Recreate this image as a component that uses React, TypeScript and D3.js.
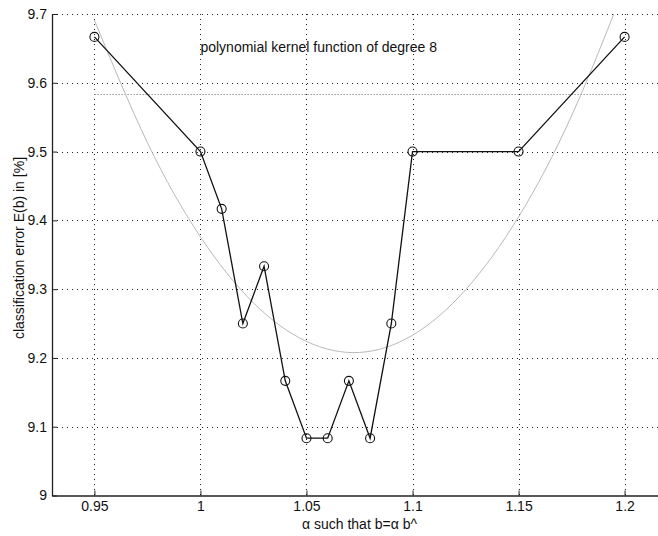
import React, { useEffect, useRef } from 'react';
import * as d3 from 'd3';

// measured error per scaling factor alpha
const alphas = [0.95, 1.0, 1.01, 1.02, 1.03, 1.04, 1.05, 1.06, 1.07, 1.08, 1.09, 1.1, 1.15, 1.2];
const errors = [9.6667, 9.5, 9.4167, 9.25, 9.3333, 9.1667, 9.0833, 9.0833, 9.1667, 9.0833, 9.25, 9.5, 9.5, 9.6667];

// gray fitted curve
const fitX = [0.95, 0.975, 1.0, 1.025, 1.05, 1.075, 1.1, 1.125, 1.15, 1.175, 1.2];
const fitY = [9.691, 9.513, 9.376, 9.28, 9.224, 9.208, 9.233, 9.299, 9.405, 9.552, 9.74];

// dotted reference level
const refLevel = 9.5833;
const refRange = [0.95, 1.2];

const xTicks = [0.95, 1, 1.05, 1.1, 1.15, 1.2];
const yTicks = [9, 9.1, 9.2, 9.3, 9.4, 9.5, 9.6, 9.7];

const App = () => {
  const svgRef = useRef<SVGSVGElement>(null);

  useEffect(() => {
    const svgWidth = 658;
    const svgHeight = 536;
    const plot = { left: 52, top: 14, right: 667, bottom: 495.5 };
    const font = '"Liberation Sans", Arial, Helvetica, sans-serif';

    const svg = d3.select(svgRef.current)
      .attr('width', svgWidth)
      .attr('height', svgHeight)
      .style('background', '#fff');

    svg.selectAll('*').remove();

    const x = d3.scaleLinear().domain([0.93, 1.22]).range([plot.left, plot.right]);
    const y = d3.scaleLinear().domain([9, 9.7]).range([plot.bottom, plot.top]);

    // clip for the curves
    svg.append('clipPath').attr('id', 'plotclip')
      .append('rect')
      .attr('x', plot.left)
      .attr('y', plot.top)
      .attr('width', plot.right - plot.left)
      .attr('height', plot.bottom - plot.top);

    // dotted grid
    const grid = svg.append('g')
      .attr('stroke', '#222')
      .attr('stroke-width', 1)
      .attr('stroke-dasharray', '1,4')
      .attr('shape-rendering', 'crispEdges');
    grid.selectAll('line.vx')
      .data(xTicks)
      .join('line')
      .attr('class', 'vx')
      .attr('x1', d => Math.round(x(d)) + 0.5)
      .attr('x2', d => Math.round(x(d)) + 0.5)
      .attr('y1', plot.top)
      .attr('y2', plot.bottom);
    grid.selectAll('line.hy')
      .data(yTicks.filter(d => d > 9))
      .join('line')
      .attr('class', 'hy')
      .attr('x1', plot.left)
      .attr('x2', plot.right)
      .attr('y1', d => Math.round(y(d)) + 0.5)
      .attr('y2', d => Math.round(y(d)) + 0.5);

    // reference level
    svg.append('line')
      .attr('x1', x(refRange[0]))
      .attr('x2', x(refRange[1]))
      .attr('y1', Math.round(y(refLevel)) + 0.5)
      .attr('y2', Math.round(y(refLevel)) + 0.5)
      .attr('stroke', '#999')
      .attr('stroke-width', 1)
      .attr('stroke-dasharray', '1.5,1.5');

    // fitted curve
    const fitLine = d3.line<number>()
      .x((d, i) => x(fitX[i]))
      .y(d => y(d))
      .curve(d3.curveNatural);
    svg.append('path')
      .datum(fitY)
      .attr('clip-path', 'url(#plotclip)')
      .attr('fill', 'none')
      .attr('stroke', '#b8b8b8')
      .attr('stroke-width', 1)
      .attr('d', fitLine);

    // measured error
    const errLine = d3.line<number>()
      .x((d, i) => x(alphas[i]))
      .y(d => y(d));
    svg.append('path')
      .datum(errors)
      .attr('fill', 'none')
      .attr('stroke', '#111')
      .attr('stroke-width', 1.3)
      .attr('d', errLine);

    svg.append('g')
      .selectAll('circle')
      .data(errors)
      .join('circle')
      .attr('cx', (d, i) => x(alphas[i]))
      .attr('cy', d => y(d))
      .attr('r', 4.5)
      .attr('fill', 'none')
      .attr('stroke', '#111')
      .attr('stroke-width', 1.1);

    // axes, ticks pointing inward
    const xAxis = d3.axisBottom(x).tickValues(xTicks).tickSizeInner(-5).tickSizeOuter(0)
      .tickPadding(6).tickFormat(d => String(d));
    const gx = svg.append('g')
      .attr('transform', `translate(0, ${plot.bottom})`)
      .call(xAxis);
    gx.select('.domain').attr('stroke', '#222').attr('stroke-width', 1.3);
    gx.selectAll('.tick line').attr('stroke', '#222');
    gx.selectAll('text')
      .attr('fill', '#111')
      .style('font-family', font)
      .style('font-size', '14px');

    const yAxis = d3.axisLeft(y).tickValues(yTicks).tickSizeInner(-5).tickSizeOuter(0)
      .tickPadding(5).tickFormat(d => String(d));
    const gy = svg.append('g')
      .attr('transform', `translate(${plot.left}, 0)`)
      .call(yAxis);
    gy.select('.domain').attr('stroke', '#222').attr('stroke-width', 1.3);
    gy.selectAll('.tick line').attr('stroke', '#222');
    gy.selectAll('text')
      .attr('fill', '#111')
      .style('font-family', font)
      .style('font-size', '14px');

    // labels
    svg.append('text')
      .attr('x', x(1))
      .attr('y', 52)
      .attr('fill', '#111')
      .style('font-family', font)
      .style('font-size', '14px')
      .text('polynomial kernel function of degree 8');

    svg.append('text')
      .attr('x', (plot.left + plot.right) / 2)
      .attr('y', 529)
      .attr('text-anchor', 'middle')
      .attr('fill', '#111')
      .style('font-family', font)
      .style('font-size', '14px')
      .text('\u03b1 such that b=\u03b1 b^');

    svg.append('text')
      .attr('transform', 'translate(24, 248) rotate(-90)')
      .attr('text-anchor', 'middle')
      .attr('fill', '#111')
      .style('font-family', font)
      .style('font-size', '14px')
      .text('classification error E(b) in [%]');
  }, []);

  return (
    <svg
      ref={svgRef}
      style={{ position: 'absolute', left: 0, top: 0, display: 'block' }}
    ></svg>
  );
};

export default App;
